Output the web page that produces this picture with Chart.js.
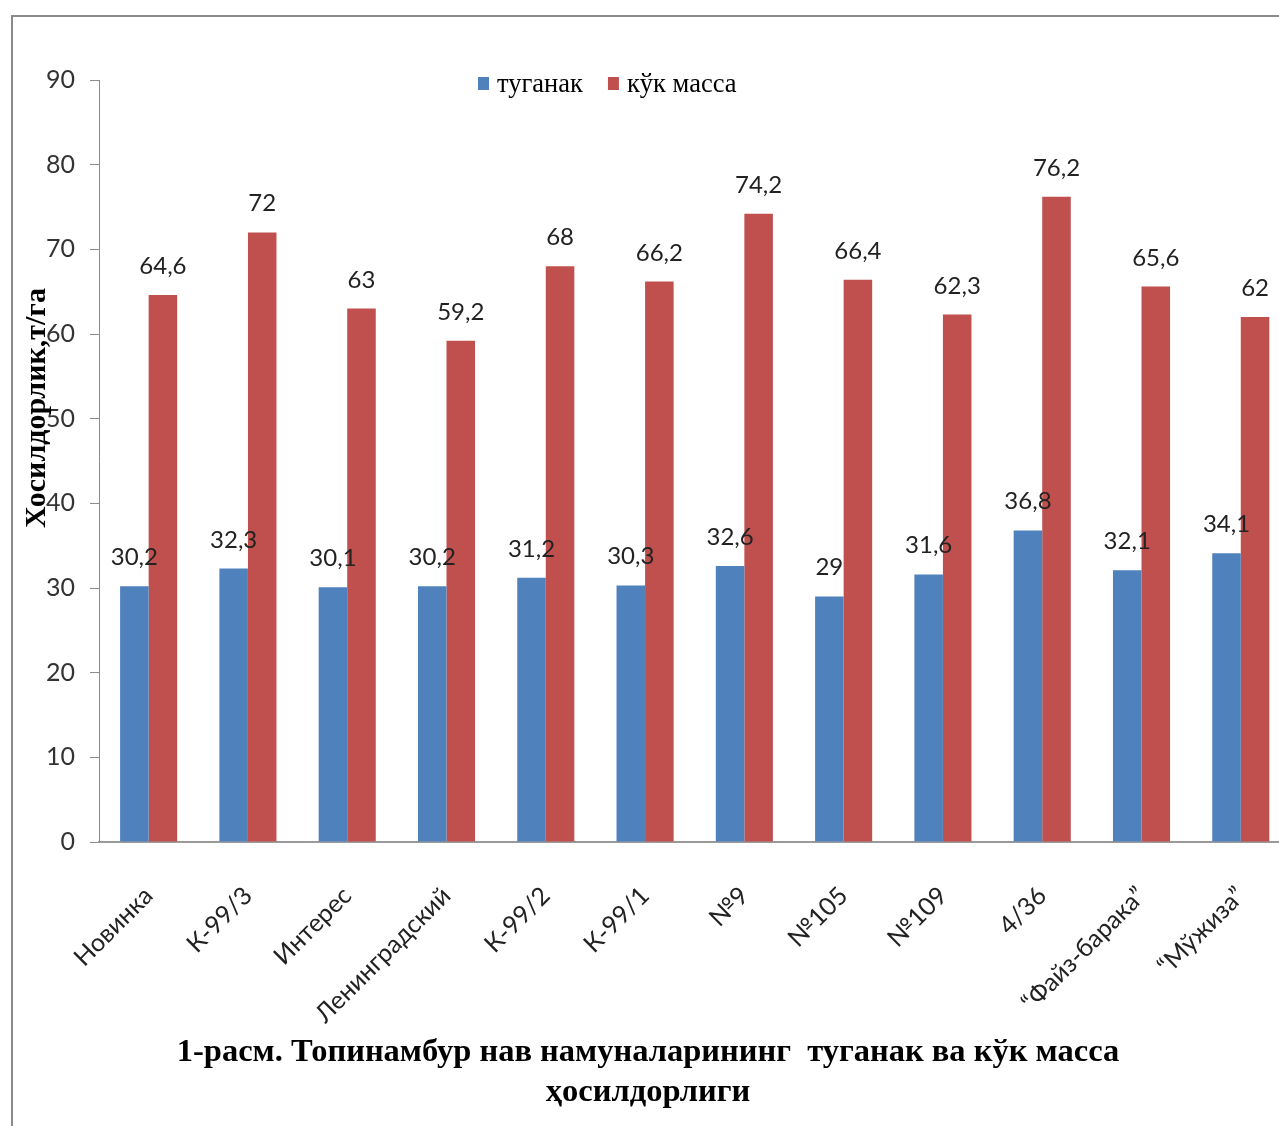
<!DOCTYPE html>
<html>
<head>
<meta charset="utf-8">
<script src="https://cdn.jsdelivr.net/npm/chart.js@4.4.0/dist/chart.umd.min.js"></script>
<style>
  html, body { margin: 0; padding: 0; background: #fff; overflow: hidden; width: 1279px; height: 1126px; }
  #myChart { position: absolute; left: 0; top: 0; }
  .frame { position: absolute; left: 11px; top: 15px; width: 1400px; height: 1200px;
           border-left: 2px solid #8a8a8a; border-top: 2px solid #8a8a8a; pointer-events: none; }
  .caption { position: absolute; left: 0; width: 1296px; text-align: center;
             font-family: "Liberation Serif", "Times New Roman", serif; font-weight: bold;
             font-size: 32.5px; line-height: 40px; color: #000; white-space: pre; }
</style>
</head>
<body>
<canvas id="myChart" width="1293" height="1126"></canvas>
<div class="frame"></div>
<div class="caption" style="top:1030px">1-расм. Топинамбур нав намуналарининг  туганак ва кўк масса</div>
<div class="caption" style="top:1070px">ҳосилдорлиги</div>
<script>
const ctx = document.getElementById('myChart');

const categories = ['Новинка', 'К-99/3', 'Интерес', 'Ленинградский', 'К-99/2', 'К-99/1',
    '№9', '№105', '№109', '4/36', '“Файз-барака”', '“Мўжиза”'];
const tuganak = [30.2, 32.3, 30.1, 30.2, 31.2, 30.3, 32.6, 29, 31.6, 36.8, 32.1, 34.1];
const kukMassa = [64.6, 72, 63, 59.2, 68, 66.2, 74.2, 66.4, 62.3, 76.2, 65.6, 62];
const yTicks = [0, 10, 20, 30, 40, 50, 60, 70, 80, 90];
const yTitle = 'Хосилдорлик,т/га';

// value labels above the bars, comma as decimal separator
const barLabels = {
    id: 'barLabels',
    afterDatasetsDraw(chart) {
        const c = chart.ctx;
        c.save();
        c.font = '24px Lato';
        c.fillStyle = '#222';
        c.textAlign = 'center';
        c.textBaseline = 'alphabetic';
        chart.data.datasets.forEach((ds, i) => {
            chart.getDatasetMeta(i).data.forEach((bar, j) => {
                c.fillText(String(ds.data[j]).replace('.', ','), bar.x, bar.y - 21);
            });
        });
        c.restore();
    }
};

// legend inside the plot + rotated y title
const extras = {
    id: 'extras',
    afterDraw(chart) {
        const c = chart.ctx;
        c.save();
        c.font = '26.5px "Liberation Serif"';
        c.textBaseline = 'alphabetic';
        c.textAlign = 'left';
        let x = 478;
        chart.data.datasets.forEach(ds => {
            c.fillStyle = ds.backgroundColor;
            c.fillRect(x, 77, 11, 13);
            c.fillStyle = '#000';
            c.fillText(ds.label, x + 19, 92);
            x += 19 + c.measureText(ds.label).width + 25;
        });
        c.translate(37, 408);
        c.rotate(-Math.PI / 2);
        c.font = 'bold 30px "Liberation Serif"';
        c.textAlign = 'center';
        c.textBaseline = 'middle';
        c.fillText(yTitle, 0, 0);
        c.restore();
    }
};

new Chart(ctx, {
    type: 'bar',
    data: {
        labels: categories,
        datasets: [
            {
                label: 'туганак',
                data: tuganak,
                backgroundColor: '#4F81BD',
                categoryPercentage: 0.575,
                barPercentage: 1.0
            },
            {
                label: 'кўк масса',
                data: kukMassa,
                backgroundColor: '#C0504D',
                categoryPercentage: 0.575,
                barPercentage: 1.0
            }
        ]
    },
    options: {
        responsive: false,
        animation: false,
        layout: { padding: { top: 80, right: 0, bottom: 0, left: 0 } },
        plugins: {
            legend: { display: false },
            tooltip: { enabled: false }
        },
        scales: {
            x: {
                grid: { display: false },
                border: { color: '#9a9a9a', width: 2 },
                ticks: {
                    font: { family: 'Lato', size: 25 },
                    color: '#222',
                    minRotation: 45,
                    maxRotation: 45,
                    padding: 31
                },
                afterFit: s => { s.height = 284; }
            },
            y: {
                min: 0,
                max: 90,
                afterBuildTicks: s => { s.ticks = yTicks.map(v => ({ value: v })); },
                grid: { drawOnChartArea: false, drawTicks: true, tickLength: 9, color: '#8a8a8a' },
                border: { color: '#8a8a8a', width: 1 },
                ticks: {
                    font: { family: 'Lato', size: 25 },
                    color: '#333',
                    padding: 15
                },
                afterFit: s => { s.width = 99; }
            }
        }
    },
    plugins: [barLabels, extras]
});
</script>
</body>
</html>
